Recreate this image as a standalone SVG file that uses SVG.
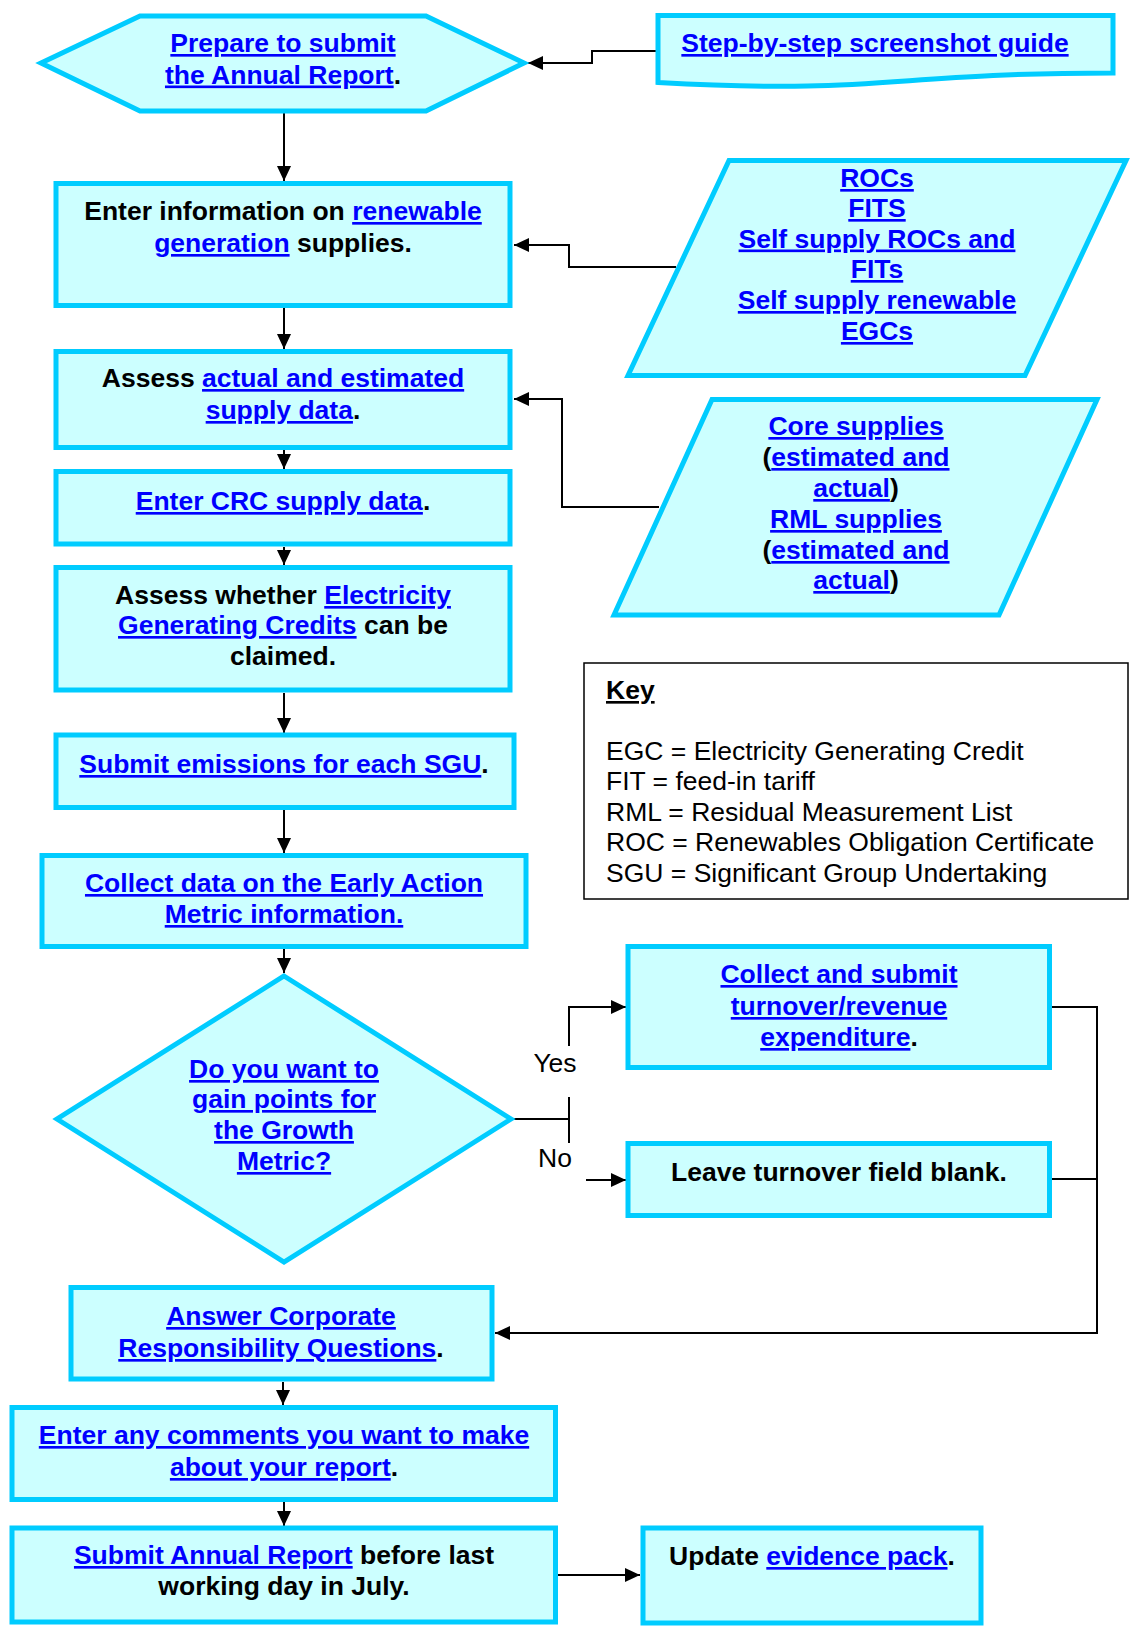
<svg xmlns="http://www.w3.org/2000/svg" width="1136" height="1630" viewBox="0 0 1136 1630">
  <style>
    .node { fill: #CCFFFF; stroke: #00CCFF; stroke-width: 5; }
    .t { font-family: "Liberation Sans", Arial, sans-serif; font-size: 26.5px; font-weight: bold; fill: #000; text-anchor: middle; }
    .l { fill: #0000FF; text-decoration: underline; text-decoration-thickness: 2.5px; text-decoration-skip-ink: none; text-underline-offset: 4px; }
    .r { font-family: "Liberation Sans", Arial, sans-serif; font-size: 26.5px; fill: #000; }
    .c { fill: none; stroke: #000; stroke-width: 2; }
    .a { marker-end: url(#arrow); }
  </style>
  <defs>
    <marker id="arrow" markerUnits="userSpaceOnUse" markerWidth="15" markerHeight="14" refX="15" refY="7" orient="auto">
      <path d="M0,0 L15,7 L0,14 Z" fill="#000"/>
    </marker>
  </defs>

  <rect width="1136" height="1630" fill="#fff"/>

  <!-- connectors -->
  <g id="connectors">
    <path class="c a" d="M284,113 V181"/>
    <path class="c a" d="M656,51 H592 V63 H528"/>
    <path class="c a" d="M676,267 H569 V245 H514"/>
    <path class="c a" d="M284,308 V349"/>
    <path class="c a" d="M659,507 H562 V399 H514"/>
    <path class="c a" d="M284,450 V469"/>
    <path class="c a" d="M284,547 V565"/>
    <path class="c a" d="M284,693 V733"/>
    <path class="c a" d="M284,810 V853"/>
    <path class="c a" d="M284,949 V973"/>
    <path class="c" d="M514,1119 H569 M569,1097 V1143"/>
    <path class="c a" d="M569,1046 V1007 H626"/>
    <path class="c a" d="M586,1180 H626"/>
    <path class="c a" d="M1052,1007 H1097 V1333 H495"/>
    <path class="c" d="M1052,1179 H1097"/>
    <path class="c a" d="M283,1382 V1405"/>
    <path class="c a" d="M284,1502 V1526"/>
    <path class="c a" d="M558,1575 H640"/>
  </g>

  <g id="prepare">
    <polygon class="node" points="41,63 140,16 426,16 524,63 426,111 140,111"/>
    <text class="t" x="283" y="52"><tspan class="l">Prepare to submit</tspan></text>
    <text class="t" x="283" y="83.5"><tspan class="l">the Annual Report</tspan>.</text>
  </g>

  <g id="guide">
    <path class="node" d="M658,15.5 H1113 V73 C885.5,73 885.5,94.9 658,82.5 Z"/>
    <text class="t" x="875" y="52"><tspan class="l">Step-by-step screenshot guide</tspan></text>
  </g>

  <g id="renewable">
    <rect class="node" x="56" y="183.5" width="454" height="122"/>
    <text class="t" x="283" y="220">Enter information on <tspan class="l">renewable</tspan></text>
    <text class="t" x="283" y="252"><tspan class="l">generation</tspan> supplies.</text>
  </g>

  <g id="renewable-types">
    <polygon class="node" points="729,160.5 1126,160.5 1025,375.5 628,375.5"/>
    <text class="t" x="877" y="187"><tspan class="l">ROCs</tspan></text>
    <text class="t" x="877" y="217"><tspan class="l">FITS</tspan></text>
    <text class="t" x="877" y="247.5"><tspan class="l">Self supply ROCs and</tspan></text>
    <text class="t" x="877" y="278"><tspan class="l">FITs</tspan></text>
    <text class="t" x="877" y="309"><tspan class="l">Self supply renewable</tspan></text>
    <text class="t" x="877" y="340"><tspan class="l">EGCs</tspan></text>
  </g>

  <g id="assess-supply">
    <rect class="node" x="56" y="351.5" width="454" height="96"/>
    <text class="t" x="283" y="387">Assess <tspan class="l">actual and estimated</tspan></text>
    <text class="t" x="283" y="419"><tspan class="l">supply data</tspan>.</text>
  </g>

  <g id="supplies">
    <polygon class="node" points="712,399.5 1097,399.5 999,615 614,615"/>
    <text class="t" x="856" y="435"><tspan class="l">Core supplies</tspan></text>
    <text class="t" x="856" y="466">(<tspan class="l">estimated and</tspan></text>
    <text class="t" x="856" y="497"><tspan class="l">actual</tspan>)</text>
    <text class="t" x="856" y="528"><tspan class="l">RML supplies</tspan></text>
    <text class="t" x="856" y="559">(<tspan class="l">estimated and</tspan></text>
    <text class="t" x="856" y="589"><tspan class="l">actual</tspan>)</text>
  </g>

  <g id="crc-supply">
    <rect class="node" x="56" y="471.5" width="454" height="72.5"/>
    <text class="t" x="283" y="510"><tspan class="l">Enter CRC supply data</tspan>.</text>
  </g>

  <g id="egc">
    <rect class="node" x="56" y="567.5" width="454" height="122.5"/>
    <text class="t" x="283" y="604">Assess whether <tspan class="l">Electricity</tspan></text>
    <text class="t" x="283" y="634"><tspan class="l">Generating Credits</tspan> can be</text>
    <text class="t" x="283" y="665">claimed.</text>
  </g>

  <g id="key">
    <rect x="584" y="663" width="544" height="236" fill="#fff" stroke="#000" stroke-width="1.5"/>
    <text class="r" x="606" y="699" font-weight="bold" style="text-decoration: underline; text-decoration-thickness: 2.5px; text-decoration-skip-ink: none; text-underline-offset: 4px;">Key</text>
    <text class="r" x="606" y="759.5">EGC = Electricity Generating Credit</text>
    <text class="r" x="606" y="790">FIT = feed-in tariff</text>
    <text class="r" x="606" y="820.5">RML = Residual Measurement List</text>
    <text class="r" x="606" y="851">ROC = Renewables Obligation Certificate</text>
    <text class="r" x="606" y="881.5">SGU = Significant Group Undertaking</text>
  </g>

  <g id="emissions">
    <rect class="node" x="56" y="735" width="458" height="72.5"/>
    <text class="t" x="284" y="773"><tspan class="l">Submit emissions for each SGU</tspan>.</text>
  </g>

  <g id="early-action">
    <rect class="node" x="42" y="855.5" width="484" height="91"/>
    <text class="t" x="284" y="892"><tspan class="l">Collect data on the Early Action</tspan></text>
    <text class="t" x="284" y="923"><tspan class="l">Metric information.</tspan></text>
  </g>

  <g id="growth">
    <polygon class="node" points="284,976 511,1119 284,1262 57,1119"/>
    <text class="t" x="284" y="1078"><tspan class="l">Do you want to</tspan></text>
    <text class="t" x="284" y="1108"><tspan class="l">gain points for</tspan></text>
    <text class="t" x="284" y="1139"><tspan class="l">the Growth</tspan></text>
    <text class="t" x="284" y="1170"><tspan class="l">Metric?</tspan></text>
  </g>

  <g id="labels">
    <text class="r" x="555" y="1072" text-anchor="middle">Yes</text>
    <text class="r" x="555" y="1167" text-anchor="middle">No</text>
  </g>

  <g id="turnover">
    <rect class="node" x="628" y="946.5" width="421.5" height="121"/>
    <text class="t" x="839" y="983"><tspan class="l">Collect and submit</tspan></text>
    <text class="t" x="839" y="1015"><tspan class="l">turnover/revenue</tspan></text>
    <text class="t" x="839" y="1046"><tspan class="l">expenditure</tspan>.</text>
  </g>

  <g id="blank">
    <rect class="node" x="628" y="1143.5" width="421.5" height="72"/>
    <text class="t" x="839" y="1181">Leave turnover field blank.</text>
  </g>

  <g id="responsibility">
    <rect class="node" x="71" y="1287.5" width="421" height="91.5"/>
    <text class="t" x="281" y="1325"><tspan class="l">Answer Corporate</tspan></text>
    <text class="t" x="281" y="1357"><tspan class="l">Responsibility Questions</tspan>.</text>
  </g>

  <g id="comments">
    <rect class="node" x="12" y="1407.5" width="543.5" height="92"/>
    <text class="t" x="284" y="1444"><tspan class="l">Enter any comments you want to make</tspan></text>
    <text class="t" x="284" y="1476"><tspan class="l">about your report</tspan>.</text>
  </g>

  <g id="submit">
    <rect class="node" x="12" y="1528" width="543.5" height="94"/>
    <text class="t" x="284" y="1564"><tspan class="l">Submit Annual Report</tspan> before last</text>
    <text class="t" x="284" y="1595">working day in July.</text>
  </g>

  <g id="evidence">
    <rect class="node" x="643" y="1528" width="338" height="95"/>
    <text class="t" x="812" y="1565">Update <tspan class="l">evidence pack</tspan>.</text>
  </g>
</svg>
